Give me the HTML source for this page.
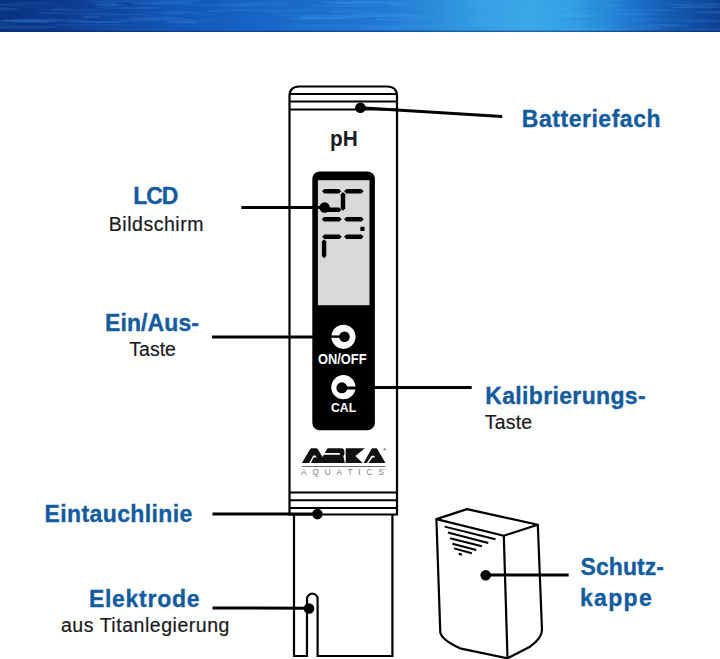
<!DOCTYPE html>
<html><head><meta charset="utf-8">
<style>
html,body{margin:0;padding:0;background:#fff;}
body{width:720px;height:659px;overflow:hidden;position:relative;font-family:"Liberation Sans",sans-serif;}
#banner{position:absolute;left:0;top:0;width:720px;height:32px;overflow:hidden;
background:linear-gradient(90deg,#0a3282 0px,#0c3a8e 60px,#0f48a2 120px,#1358b8 180px,#1764c6 250px,#1b6ecc 320px,#2079d4 380px,#2a8ad8 430px,#36a0e4 480px,#3aa8e8 530px,#32a0e4 570px,#2588d8 610px,#1a66bf 650px,#1150a5 690px,#0d3f92 720px);}
#banner svg{position:absolute;left:0;top:0;}
.t{position:absolute;white-space:nowrap;line-height:1;}
.b{font-weight:700;color:#135c9f;font-size:23px;-webkit-text-stroke:0.35px #135c9f;}
.r{font-weight:400;color:#1a1a1a;font-size:19.5px;-webkit-text-stroke:0.2px #1a1a1a;}
svg{position:absolute;left:0;top:0;}
</style></head><body>
<div id="banner"><svg width="720" height="32" viewBox="0 0 720 32"><ellipse cx="226" cy="5.4" rx="32" ry="0.8" fill="#5ab4ff" opacity="0.11"/><ellipse cx="258" cy="2.7" rx="27" ry="0.7" fill="#5ab4ff" opacity="0.10"/><ellipse cx="33" cy="3.6" rx="24" ry="1.6" fill="#5ab4ff" opacity="0.06"/><ellipse cx="150" cy="19.2" rx="43" ry="1.3" fill="#5ab4ff" opacity="0.09"/><ellipse cx="722" cy="2.4" rx="40" ry="1.0" fill="#5ab4ff" opacity="0.06"/><ellipse cx="70" cy="9.9" rx="38" ry="0.9" fill="#5ab4ff" opacity="0.11"/><ellipse cx="466" cy="11.8" rx="28" ry="0.8" fill="#5ab4ff" opacity="0.05"/><ellipse cx="137" cy="20.7" rx="24" ry="1.0" fill="#5ab4ff" opacity="0.11"/><ellipse cx="324" cy="9.7" rx="37" ry="1.5" fill="#5ab4ff" opacity="0.08"/><ellipse cx="417" cy="16.2" rx="40" ry="1.5" fill="#5ab4ff" opacity="0.08"/><ellipse cx="725" cy="4.4" rx="23" ry="1.5" fill="#5ab4ff" opacity="0.06"/><ellipse cx="352" cy="2.1" rx="33" ry="1.5" fill="#5ab4ff" opacity="0.11"/><ellipse cx="645" cy="10.1" rx="34" ry="1.4" fill="#5ab4ff" opacity="0.11"/><ellipse cx="327" cy="25.4" rx="43" ry="1.2" fill="#5ab4ff" opacity="0.13"/><ellipse cx="26" cy="21.3" rx="32" ry="1.8" fill="#5ab4ff" opacity="0.14"/><ellipse cx="196" cy="12.2" rx="33" ry="0.7" fill="#5ab4ff" opacity="0.10"/><ellipse cx="108" cy="4.4" rx="10" ry="1.5" fill="#5ab4ff" opacity="0.06"/><ellipse cx="168" cy="12.3" rx="40" ry="0.8" fill="#5ab4ff" opacity="0.10"/><ellipse cx="398" cy="26.6" rx="38" ry="1.7" fill="#5ab4ff" opacity="0.08"/><ellipse cx="296" cy="11.4" rx="41" ry="1.8" fill="#5ab4ff" opacity="0.06"/><ellipse cx="114" cy="7.7" rx="17" ry="1.2" fill="#5ab4ff" opacity="0.11"/><ellipse cx="180" cy="1.1" rx="24" ry="1.1" fill="#5ab4ff" opacity="0.11"/><ellipse cx="704" cy="21.0" rx="27" ry="1.4" fill="#5ab4ff" opacity="0.13"/><ellipse cx="21" cy="27.1" rx="37" ry="1.7" fill="#5ab4ff" opacity="0.14"/><ellipse cx="278" cy="12.6" rx="12" ry="1.4" fill="#5ab4ff" opacity="0.05"/><ellipse cx="31" cy="7.1" rx="14" ry="1.1" fill="#5ab4ff" opacity="0.05"/><ellipse cx="-20" cy="5.4" rx="12" ry="1.1" fill="#5ab4ff" opacity="0.04"/><ellipse cx="644" cy="18.8" rx="13" ry="1.0" fill="#5ab4ff" opacity="0.09"/><ellipse cx="257" cy="4.6" rx="39" ry="1.8" fill="#5ab4ff" opacity="0.10"/><ellipse cx="348" cy="3.5" rx="12" ry="1.1" fill="#5ab4ff" opacity="0.08"/><ellipse cx="610" cy="5.7" rx="9" ry="1.7" fill="#5ab4ff" opacity="0.11"/><ellipse cx="91" cy="16.8" rx="9" ry="1.3" fill="#5ab4ff" opacity="0.17"/><ellipse cx="636" cy="21.2" rx="18" ry="1.1" fill="#5ab4ff" opacity="0.07"/><ellipse cx="567" cy="16.4" rx="37" ry="1.1" fill="#5ab4ff" opacity="0.08"/><ellipse cx="597" cy="29.6" rx="40" ry="1.6" fill="#5ab4ff" opacity="0.14"/><ellipse cx="542" cy="7.6" rx="27" ry="1.1" fill="#5ab4ff" opacity="0.04"/><ellipse cx="1" cy="9.1" rx="18" ry="1.5" fill="#5ab4ff" opacity="0.16"/><ellipse cx="320" cy="28.2" rx="45" ry="1.8" fill="#5ab4ff" opacity="0.09"/><ellipse cx="148" cy="7.6" rx="15" ry="0.9" fill="#5ab4ff" opacity="0.12"/><ellipse cx="664" cy="25.4" rx="26" ry="1.4" fill="#5ab4ff" opacity="0.14"/><ellipse cx="44" cy="20.2" rx="42" ry="1.6" fill="#5ab4ff" opacity="0.14"/><ellipse cx="343" cy="6.2" rx="37" ry="1.1" fill="#5ab4ff" opacity="0.14"/><ellipse cx="718" cy="12.5" rx="23" ry="1.7" fill="#5ab4ff" opacity="0.14"/><ellipse cx="109" cy="4.7" rx="14" ry="1.7" fill="#5ab4ff" opacity="0.14"/><ellipse cx="91" cy="25.0" rx="44" ry="1.4" fill="#5ab4ff" opacity="0.09"/><ellipse cx="397" cy="4.8" rx="9" ry="1.8" fill="#5ab4ff" opacity="0.12"/><ellipse cx="380" cy="28.1" rx="24" ry="1.7" fill="#5ab4ff" opacity="0.14"/><ellipse cx="140" cy="8.3" rx="19" ry="1.0" fill="#5ab4ff" opacity="0.11"/><ellipse cx="177" cy="13.2" rx="13" ry="1.7" fill="#5ab4ff" opacity="0.09"/><ellipse cx="328" cy="17.9" rx="41" ry="1.2" fill="#5ab4ff" opacity="0.16"/><ellipse cx="361" cy="16.4" rx="27" ry="0.7" fill="#5ab4ff" opacity="0.10"/><ellipse cx="119" cy="1.1" rx="38" ry="0.9" fill="#5ab4ff" opacity="0.11"/><ellipse cx="531" cy="17.1" rx="20" ry="1.3" fill="#5ab4ff" opacity="0.11"/><ellipse cx="576" cy="4.1" rx="29" ry="1.0" fill="#5ab4ff" opacity="0.08"/><ellipse cx="567" cy="15.7" rx="29" ry="1.5" fill="#5ab4ff" opacity="0.16"/><ellipse cx="317" cy="18.8" rx="27" ry="1.3" fill="#5ab4ff" opacity="0.13"/><ellipse cx="324" cy="16.5" rx="26" ry="1.7" fill="#5ab4ff" opacity="0.13"/><ellipse cx="646" cy="28.3" rx="18" ry="1.3" fill="#5ab4ff" opacity="0.16"/><ellipse cx="618" cy="5.0" rx="13" ry="1.2" fill="#5ab4ff" opacity="0.05"/><ellipse cx="163" cy="3.1" rx="33" ry="1.6" fill="#5ab4ff" opacity="0.15"/><ellipse cx="97" cy="21.8" rx="32" ry="0.9" fill="#5ab4ff" opacity="0.15"/><ellipse cx="715" cy="7.4" rx="43" ry="1.1" fill="#5ab4ff" opacity="0.11"/><ellipse cx="732" cy="25.1" rx="14" ry="1.2" fill="#5ab4ff" opacity="0.11"/><ellipse cx="238" cy="6.7" rx="20" ry="1.5" fill="#5ab4ff" opacity="0.04"/><ellipse cx="401" cy="13.8" rx="9" ry="1.1" fill="#5ab4ff" opacity="0.12"/><ellipse cx="369" cy="2.9" rx="44" ry="1.6" fill="#5ab4ff" opacity="0.17"/><ellipse cx="60" cy="8.7" rx="9" ry="1.6" fill="#5ab4ff" opacity="0.08"/><ellipse cx="78" cy="13.2" rx="42" ry="1.6" fill="#5ab4ff" opacity="0.08"/><ellipse cx="94" cy="27.7" rx="29" ry="1.5" fill="#5ab4ff" opacity="0.05"/><ellipse cx="24" cy="21.0" rx="24" ry="0.8" fill="#5ab4ff" opacity="0.16"/><ellipse cx="462" cy="24.2" rx="11" ry="1.6" fill="#5ab4ff" opacity="0.05"/><ellipse cx="636" cy="14.2" rx="21" ry="1.3" fill="#5ab4ff" opacity="0.16"/><ellipse cx="184" cy="4.7" rx="27" ry="1.0" fill="#5ab4ff" opacity="0.06"/><ellipse cx="103" cy="2.5" rx="15" ry="1.0" fill="#5ab4ff" opacity="0.08"/><ellipse cx="557" cy="9.4" rx="27" ry="0.9" fill="#5ab4ff" opacity="0.09"/><ellipse cx="-6" cy="8.3" rx="9" ry="1.5" fill="#5ab4ff" opacity="0.11"/><ellipse cx="124" cy="14.8" rx="43" ry="0.8" fill="#5ab4ff" opacity="0.14"/><ellipse cx="308" cy="15.4" rx="39" ry="1.1" fill="#5ab4ff" opacity="0.11"/><ellipse cx="503" cy="29.5" rx="21" ry="1.6" fill="#5ab4ff" opacity="0.13"/><ellipse cx="463" cy="12.7" rx="21" ry="0.8" fill="#5ab4ff" opacity="0.06"/><ellipse cx="34" cy="22.5" rx="17" ry="0.9" fill="#5ab4ff" opacity="0.05"/><ellipse cx="619" cy="26.2" rx="33" ry="1.0" fill="#5ab4ff" opacity="0.08"/><ellipse cx="203" cy="14.3" rx="14" ry="1.2" fill="#5ab4ff" opacity="0.08"/><ellipse cx="711" cy="29.2" rx="28" ry="1.0" fill="#5ab4ff" opacity="0.16"/><ellipse cx="215" cy="11.3" rx="8" ry="1.1" fill="#5ab4ff" opacity="0.11"/><ellipse cx="362" cy="6.8" rx="27" ry="0.7" fill="#5ab4ff" opacity="0.08"/><ellipse cx="48" cy="12.6" rx="10" ry="0.7" fill="#5ab4ff" opacity="0.08"/><ellipse cx="157" cy="18.0" rx="28" ry="1.5" fill="#5ab4ff" opacity="0.13"/><ellipse cx="524" cy="26.5" rx="22" ry="1.1" fill="#5ab4ff" opacity="0.17"/><ellipse cx="94" cy="22.0" rx="32" ry="0.7" fill="#5ab4ff" opacity="0.14"/><ellipse cx="658" cy="19.2" rx="35" ry="1.6" fill="#5ab4ff" opacity="0.06"/><ellipse cx="378" cy="15.6" rx="39" ry="1.6" fill="#5ab4ff" opacity="0.14"/><ellipse cx="424" cy="26.9" rx="33" ry="1.5" fill="#5ab4ff" opacity="0.08"/><ellipse cx="4" cy="4.9" rx="21" ry="0.8" fill="#5ab4ff" opacity="0.14"/><ellipse cx="404" cy="19.2" rx="31" ry="1.4" fill="#5ab4ff" opacity="0.11"/><ellipse cx="-17" cy="24.1" rx="36" ry="1.3" fill="#5ab4ff" opacity="0.11"/><ellipse cx="481" cy="2.9" rx="35" ry="1.0" fill="#5ab4ff" opacity="0.05"/><ellipse cx="182" cy="22.2" rx="16" ry="1.5" fill="#5ab4ff" opacity="0.17"/><ellipse cx="355" cy="12.1" rx="26" ry="1.5" fill="#5ab4ff" opacity="0.14"/><ellipse cx="449" cy="19.6" rx="11" ry="0.9" fill="#5ab4ff" opacity="0.08"/><ellipse cx="545" cy="9.8" rx="29" ry="0.7" fill="#5ab4ff" opacity="0.05"/><ellipse cx="184" cy="20.5" rx="34" ry="1.4" fill="#5ab4ff" opacity="0.08"/><ellipse cx="373" cy="14.5" rx="25" ry="0.8" fill="#5ab4ff" opacity="0.15"/><ellipse cx="131" cy="29.4" rx="43" ry="0.7" fill="#5ab4ff" opacity="0.10"/><ellipse cx="603" cy="29.1" rx="25" ry="1.0" fill="#5ab4ff" opacity="0.07"/><ellipse cx="699" cy="7.1" rx="30" ry="0.9" fill="#5ab4ff" opacity="0.11"/><ellipse cx="704" cy="4.8" rx="38" ry="1.3" fill="#5ab4ff" opacity="0.15"/><ellipse cx="515" cy="7.7" rx="41" ry="1.2" fill="#5ab4ff" opacity="0.04"/><ellipse cx="-17" cy="15.3" rx="25" ry="1.0" fill="#5ab4ff" opacity="0.06"/><ellipse cx="241" cy="10.2" rx="39" ry="0.7" fill="#5ab4ff" opacity="0.14"/><ellipse cx="618" cy="4.5" rx="47" ry="1.8" fill="#06245e" opacity="0.017"/><ellipse cx="200" cy="11.8" rx="26" ry="2.2" fill="#06245e" opacity="0.013"/><ellipse cx="254" cy="13.4" rx="21" ry="0.9" fill="#06245e" opacity="0.007"/><ellipse cx="614" cy="9.3" rx="47" ry="1.1" fill="#06245e" opacity="0.009"/><ellipse cx="368" cy="6.5" rx="25" ry="2.1" fill="#06245e" opacity="0.017"/><ellipse cx="597" cy="19.3" rx="47" ry="2.1" fill="#06245e" opacity="0.013"/><ellipse cx="527" cy="2.4" rx="39" ry="1.4" fill="#06245e" opacity="0.015"/><ellipse cx="470" cy="9.3" rx="12" ry="2.1" fill="#06245e" opacity="0.008"/><ellipse cx="339" cy="11.0" rx="22" ry="1.8" fill="#06245e" opacity="0.018"/><ellipse cx="178" cy="20.0" rx="22" ry="1.6" fill="#06245e" opacity="0.011"/><ellipse cx="107" cy="5.7" rx="18" ry="2.1" fill="#06245e" opacity="0.012"/><ellipse cx="147" cy="27.3" rx="50" ry="1.4" fill="#06245e" opacity="0.008"/><ellipse cx="126" cy="3.6" rx="24" ry="0.9" fill="#06245e" opacity="0.009"/><ellipse cx="176" cy="17.5" rx="45" ry="1.8" fill="#06245e" opacity="0.011"/><ellipse cx="295" cy="16.2" rx="25" ry="1.3" fill="#06245e" opacity="0.007"/><ellipse cx="191" cy="29.1" rx="15" ry="1.5" fill="#06245e" opacity="0.014"/><ellipse cx="636" cy="7.3" rx="21" ry="1.1" fill="#06245e" opacity="0.011"/><ellipse cx="319" cy="28.7" rx="44" ry="2.0" fill="#06245e" opacity="0.006"/><ellipse cx="5" cy="21.6" rx="46" ry="1.5" fill="#06245e" opacity="0.013"/><ellipse cx="-20" cy="12.4" rx="47" ry="2.0" fill="#06245e" opacity="0.016"/><ellipse cx="719" cy="8.2" rx="14" ry="1.0" fill="#06245e" opacity="0.012"/><ellipse cx="498" cy="28.3" rx="39" ry="1.7" fill="#06245e" opacity="0.015"/><ellipse cx="328" cy="17.0" rx="12" ry="1.9" fill="#06245e" opacity="0.009"/><ellipse cx="679" cy="19.7" rx="22" ry="1.0" fill="#06245e" opacity="0.009"/><ellipse cx="464" cy="21.3" rx="14" ry="0.9" fill="#06245e" opacity="0.012"/><ellipse cx="423" cy="12.3" rx="19" ry="1.6" fill="#06245e" opacity="0.006"/><ellipse cx="209" cy="14.4" rx="48" ry="1.7" fill="#06245e" opacity="0.017"/><ellipse cx="341" cy="7.8" rx="20" ry="2.1" fill="#06245e" opacity="0.014"/><ellipse cx="214" cy="1.6" rx="30" ry="1.7" fill="#06245e" opacity="0.011"/><ellipse cx="176" cy="20.4" rx="47" ry="1.1" fill="#06245e" opacity="0.006"/><ellipse cx="237" cy="13.2" rx="37" ry="1.1" fill="#06245e" opacity="0.016"/><ellipse cx="542" cy="15.6" rx="18" ry="2.2" fill="#06245e" opacity="0.010"/><ellipse cx="603" cy="7.7" rx="19" ry="1.9" fill="#06245e" opacity="0.010"/><ellipse cx="703" cy="15.4" rx="17" ry="1.1" fill="#06245e" opacity="0.011"/><ellipse cx="486" cy="28.5" rx="16" ry="1.4" fill="#06245e" opacity="0.009"/><ellipse cx="720" cy="5.1" rx="12" ry="0.9" fill="#06245e" opacity="0.011"/><ellipse cx="663" cy="26.6" rx="39" ry="2.2" fill="#06245e" opacity="0.017"/><ellipse cx="230" cy="6.4" rx="47" ry="1.8" fill="#06245e" opacity="0.006"/><ellipse cx="485" cy="12.0" rx="25" ry="1.3" fill="#06245e" opacity="0.008"/><ellipse cx="-18" cy="9.1" rx="24" ry="2.1" fill="#06245e" opacity="0.007"/><ellipse cx="713" cy="7.0" rx="24" ry="2.0" fill="#06245e" opacity="0.016"/><ellipse cx="309" cy="2.4" rx="29" ry="1.3" fill="#06245e" opacity="0.017"/><ellipse cx="127" cy="11.6" rx="46" ry="0.8" fill="#06245e" opacity="0.011"/><ellipse cx="597" cy="23.2" rx="12" ry="0.8" fill="#06245e" opacity="0.007"/><ellipse cx="679" cy="8.5" rx="40" ry="2.1" fill="#06245e" opacity="0.010"/><ellipse cx="187" cy="28.8" rx="35" ry="1.2" fill="#06245e" opacity="0.015"/><ellipse cx="221" cy="9.0" rx="10" ry="1.9" fill="#06245e" opacity="0.017"/><ellipse cx="462" cy="28.4" rx="11" ry="1.1" fill="#06245e" opacity="0.012"/><ellipse cx="707" cy="28.7" rx="25" ry="1.2" fill="#06245e" opacity="0.011"/><ellipse cx="355" cy="27.9" rx="17" ry="1.9" fill="#06245e" opacity="0.015"/><rect x="0" y="30.6" width="720" height="1.4" fill="#082c6e" opacity="0.55"/></svg></div>
<svg width="720" height="659" viewBox="0 0 720 659">
  <!-- pen upper body -->
  <path d="M289.5,514.5 V96 Q289.5,86.5 299.5,86.5 H387 Q397,86.5 397,96 V514.5 Z" fill="none" stroke="#000" stroke-width="2.2"/>
  <g stroke="#000" stroke-width="2">
    <line x1="289.5" y1="94" x2="397" y2="94"/>
    <line x1="289.5" y1="101.6" x2="397" y2="101.6"/>
    <line x1="289.5" y1="109.4" x2="397" y2="109.4"/>
    <line x1="289.5" y1="492.5" x2="397" y2="492.5"/>
    <line x1="289.5" y1="500.3" x2="397" y2="500.3"/>
    <line x1="289.5" y1="508.1" x2="397" y2="508.1"/>
  </g>
  <!-- lower body / electrode -->
  <path d="M294,514.5 V656 H307 V599 A5.3,5.3 0 0 1 317.6,599 V656 H392.4 V514.5" fill="none" stroke="#000" stroke-width="2.2"/>
  <!-- LCD panel -->
  <rect x="312.3" y="171.4" width="62.6" height="258.8" rx="7.5" fill="#000"/>
  <rect x="317.9" y="180.2" width="51.6" height="125" fill="#d9d9d9"/>
  <!-- ON/OFF icon -->
  <circle cx="343.45" cy="336.8" r="12.1" fill="#fff"/>
  <circle cx="344.5" cy="336.7" r="5.3" fill="#000"/>
  <rect x="330" y="335.4" width="14.5" height="2.4" fill="#000"/>
  <!-- CAL icon -->
  <circle cx="343.4" cy="387.2" r="12.1" fill="#fff"/>
  <circle cx="341.85" cy="387.8" r="5.5" fill="#000"/>
  <rect x="341.85" y="386.5" width="15" height="3" fill="#000"/>
  <g fill="#000"><polygon points="322,191.2 324.3,188.89999999999998 339.0,188.89999999999998 341.3,191.2 339.0,193.5 324.3,193.5"/><polygon points="344.1,191.2 346.40000000000003,188.89999999999998 361.3,188.89999999999998 363.6,191.2 361.3,193.5 346.40000000000003,193.5"/><polygon points="343,191.9 345.2,194.20000000000002 345.2,208.5 343,210.8 340.8,208.5 340.8,194.20000000000002"/><polygon points="321,209.75 323.3,207.45 339.2,207.45 341.5,209.75 339.2,212.05 323.3,212.05"/><polygon points="321.7,219.3 324.0,217.0 339.5,217.0 341.8,219.3 339.5,221.60000000000002 324.0,221.60000000000002"/><polygon points="344.1,219.3 346.40000000000003,217.0 361.5,217.0 363.8,219.3 361.5,221.60000000000002 346.40000000000003,221.60000000000002"/><polygon points="322.1,236.8 324.40000000000003,234.5 339.5,234.5 341.8,236.8 339.5,239.10000000000002 324.40000000000003,239.10000000000002"/><polygon points="344.1,236.8 346.40000000000003,234.5 361.3,234.5 363.6,236.8 361.3,239.10000000000002 346.40000000000003,239.10000000000002"/><polygon points="324.1,239.3 326.3,241.60000000000002 326.3,256.0 324.1,258.3 321.90000000000003,256.0 321.90000000000003,241.60000000000002"/><rect x="360.4" y="226.8" width="4.1" height="4.2"/></g>
  <!-- ARKA logo -->
  <g fill="#111">
    <path d="M301.9,462.9 L310.2,448.9 L311.3,448.2 L316.4,448.2 L317.6,449 L322.6,457 L324.9,452.8 L327.6,448.2 L341.2,448.2 C343.6,448.2 344.4,449.6 344.4,451.5 L344.4,454.6 L343.3,456 L344.9,462.9 Z"/>
    <polygon points="345.7,448.2 364.9,448.2 355.4,455.9 362.7,462.9 345.7,462.9"/>
    <polygon points="363.6,462.9 371.4,448.9 372.4,448.2 376.3,448.2 377.3,448.9 385.5,462.9"/>
  </g>
  <g fill="#fff">
    <polygon points="309.2,463.2 313.2,455.4 315.6,455.4 316.6,457.6 313.6,457.6 310.8,463.2"/>
    <path d="M324.6,453 L339.4,453 C340.2,453 340.3,454.7 339.4,454.7 L323.6,454.7 Z"/>
    <polygon points="366.6,463.2 371.6,455.8 374.2,455.8 375,457.6 372.4,457.6 368.2,463.2"/>
  </g>
  <circle cx="384.6" cy="449.3" r="1.2" fill="#999"/>
  <rect x="301.7" y="466" width="83.6" height="1" fill="#6a6a6a"/>
  <!-- leader lines -->
  <g stroke="#000" stroke-width="3" fill="none">
    <line x1="360.4" y1="107.8" x2="502.2" y2="116.4"/>
    <line x1="241.4" y1="207.5" x2="324.6" y2="207.5"/>
    <line x1="212" y1="336.9" x2="313" y2="336.9"/>
    <line x1="374" y1="387.6" x2="471.7" y2="387.6"/>
    <line x1="212.5" y1="514" x2="317.4" y2="514.1"/>
    <line x1="212.5" y1="607.9" x2="309" y2="608.3"/>
    <line x1="485.7" y1="575.1" x2="568.7" y2="575.1"/>
  </g>
  <g fill="#000">
    <circle cx="360.4" cy="107.8" r="5.3"/>
    <circle cx="324.6" cy="207.5" r="5.2"/>
    <circle cx="317.4" cy="514.1" r="5.3"/>
    <circle cx="309" cy="608.5" r="5.3"/>
    <circle cx="485.7" cy="575.2" r="5.3"/>
  </g>
  <!-- cap -->
  <g fill="none" stroke="#000" stroke-width="2.2" stroke-linejoin="round">
    <path d="M436.4,519.1 L467,509.1 L537.8,524.8 L503.8,535.7 Z"/>
    <path d="M436.4,519.1 L440.3,632.5 Q442,640 460,648.3 L507.5,658.3 L530,646.7 Q542,638 542,630 L537.8,524.5"/>
    <path d="M503.8,535.7 L507.5,658.3"/>
  </g>
  <g stroke="#000" stroke-width="2" fill="none">
    <line x1="444.7" y1="526.6" x2="495.5" y2="539.3"/>
    <line x1="447.9" y1="532.5" x2="488.3" y2="543"/>
    <line x1="450" y1="538.2" x2="481.9" y2="546.2"/>
    <line x1="452.4" y1="543.7" x2="476.3" y2="550"/>
    <line x1="454" y1="548.4" x2="471.8" y2="553.2"/>
    <line x1="458.7" y1="553.7" x2="462" y2="554.8"/>
  </g>
</svg>
<div class="t b" style="left:521.8px;top:107.8px;letter-spacing:0.53px">Batteriefach</div>
<div class="t b" style="left:133.3px;top:185.0px;letter-spacing:-1.1px">LCD</div>
<div class="t r" style="left:108.8px;top:215.0px;letter-spacing:0.52px">Bildschirm</div>
<div class="t b" style="left:105px;top:311.9px;letter-spacing:0.1px">Ein/Aus-</div>
<div class="t r" style="left:129.3px;top:340.0px;">Taste</div>
<div class="t b" style="left:485.2px;top:384.6px;letter-spacing:0.35px">Kalibrierungs-</div>
<div class="t r" style="left:484.8px;top:413.3px;letter-spacing:0.2px">Taste</div>
<div class="t b" style="left:44.6px;top:503.3px;letter-spacing:0.38px">Eintauchlinie</div>
<div class="t b" style="left:88.9px;top:587.5px;letter-spacing:0.72px">Elektrode</div>
<div class="t r" style="left:61px;top:616.0px;letter-spacing:0.53px">aus Titanlegierung</div>
<div class="t b" style="left:580.5px;top:556.3px;letter-spacing:0.08px">Schutz-</div>
<div class="t b" style="left:579.9px;top:586.9px;letter-spacing:1.35px">kappe</div>
<div class="t" style="left:330.3px;top:127.7px;font-size:22.6px;font-weight:700;color:#1c1c1c;transform:scaleX(0.92);transform-origin:0 0;">pH</div>
<div class="t" style="left:318.4px;top:352.8px;font-size:13.8px;font-weight:700;color:#fff;transform:scaleX(0.93);transform-origin:0 0;">ON/OFF</div>
<div class="t" style="left:330.6px;top:401.4px;font-size:13.2px;font-weight:700;color:#fff;transform:scaleX(0.93);transform-origin:0 0;">CAL</div>
<div class="t" style="left:301px;top:469.4px;font-size:8.2px;color:#808080;letter-spacing:5.95px;">AQUATICS</div>
</body></html>
